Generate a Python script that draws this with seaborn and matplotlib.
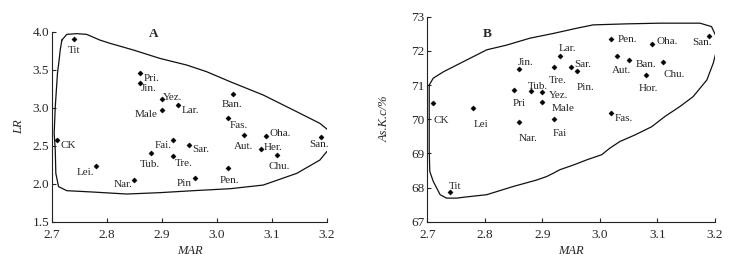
import seaborn as sns
import matplotlib.pyplot as plt
import pandas as pd

# ---- data ----
# panel A: MAR vs LR
names_a = ["Tit", "Pri.", "Jin.", "Yez.", "Male", "Lar.", "Ban.", "Fas.", "Aut.", "Oha.", "Her.",
           "Chu.", "San.", "CK", "Fai.", "Sar.", "Tub.", "Tre.", "Lei.", "Nar.", "Pin", "Pen."]
mar_a = [2.74, 2.86, 2.86, 2.90, 2.90, 2.93, 3.03, 3.02, 3.05, 3.09, 3.08,
         3.11, 3.19, 2.71, 2.92, 2.95, 2.88, 2.92, 2.78, 2.85, 2.96, 3.02]
lr_a = [3.91, 3.45, 3.33, 3.12, 2.97, 3.03, 3.18, 2.86, 2.64, 2.63, 2.46,
        2.38, 2.62, 2.57, 2.57, 2.51, 2.40, 2.36, 2.23, 2.05, 2.07, 2.20]

# panel B: MAR vs As.K.c/%
names_b = ["CK", "Lei", "Jin.", "Pri", "Tub.", "Yez.", "Male", "Tre.", "Lar.", "Nar.", "Fai",
           "Tit", "Sar.", "Pin.", "Pen.", "Oha.", "San.", "Aut.", "Ban.", "Chu.", "Hor.", "Fas."]
mar_b = [2.71, 2.78, 2.86, 2.85, 2.88, 2.90, 2.90, 2.92, 2.93, 2.86, 2.92,
         2.74, 2.95, 2.96, 3.02, 3.09, 3.19, 3.03, 3.05, 3.11, 3.08, 3.02]
ask_b = [70.47, 70.34, 71.47, 70.86, 70.83, 70.80, 70.51, 71.52, 71.85, 69.91, 70.01,
         67.88, 71.52, 71.41, 72.34, 72.19, 72.44, 71.86, 71.73, 71.68, 71.30, 70.18]

# hand-drawn enclosing outlines (data units)
hull_a_x = [2.718, 2.727, 2.745, 2.763, 2.787, 2.806, 2.848, 2.896, 2.945, 2.981, 3.024,
            3.084, 3.145, 3.187, 3.202, 3.209, 3.207, 3.187, 3.145, 3.084, 3.024, 2.957,
            2.896, 2.836, 2.775, 2.727, 2.712, 2.707, 2.706, 2.704, 2.706, 2.710, 2.713,
            2.715, 2.718]
hull_a_y = [3.890, 3.965, 3.974, 3.965, 3.890, 3.846, 3.759, 3.649, 3.561, 3.474, 3.342,
            3.167, 2.947, 2.794, 2.706, 2.596, 2.487, 2.311, 2.136, 1.982, 1.934, 1.908,
            1.882, 1.864, 1.890, 1.908, 1.961, 2.136, 2.443, 2.662, 3.013, 3.452, 3.627,
            3.759, 3.890]
hull_b_x = [2.703, 2.710, 2.728, 2.762, 2.803, 2.838, 2.878, 2.919, 2.959, 2.988, 3.046,
            3.104, 3.174, 3.194, 3.202, 3.203, 3.197, 3.186, 3.162, 3.139, 3.113, 3.090,
            3.061, 3.035, 3.017, 3.003, 2.977, 2.954, 2.930, 2.919, 2.907, 2.890, 2.849,
            2.803, 2.765, 2.751, 2.733, 2.722, 2.710, 2.704, 2.703, 2.703, 2.703]
hull_b_y = [71.00, 71.20, 71.39, 71.68, 72.03, 72.17, 72.37, 72.51, 72.66, 72.76, 72.79,
            72.81, 72.81, 72.71, 72.42, 72.03, 71.64, 71.15, 70.66, 70.37, 70.08, 69.78,
            69.54, 69.35, 69.15, 68.96, 68.81, 68.66, 68.52, 68.42, 68.32, 68.22, 68.03,
            67.79, 67.72, 67.69, 67.69, 67.79, 68.18, 68.47, 69.10, 70.27, 71.00]

# label offsets (pixels) relative to each point
off_a = {"Tit": (0, -12), "Pri.": (12, -5), "Jin.": (9, -6), "Yez.": (11, 1), "Male": (-16, -5),
         "Lar.": (12, -5), "Ban.": (-1, -10), "Fas.": (11, -7), "Aut.": (-1, -11), "Oha.": (14, 2),
         "Her.": (12, 1), "Chu.": (2, -12), "San.": (-2, -8), "CK": (11, -5), "Fai.": (-10, -5),
         "Sar.": (11, -5), "Tub.": (-1, -11), "Tre.": (11, -7), "Lei.": (-11, -6), "Nar.": (-11, -5),
         "Pin": (-11, -5), "Pen.": (1, -12)}
off_b = {"CK": (8, -17), "Lei": (8, -17), "Jin.": (6, 6), "Pri": (6, -14), "Tub.": (7, 4),
         "Yez.": (16, -4), "Male": (21, -7), "Tre.": (4, -13), "Lar.": (8, 7), "Nar.": (9, -16),
         "Fai": (6, -15), "Tit": (5, 5), "Sar.": (12, 3), "Pin.": (9, -16), "Pen.": (16, 0),
         "Oha.": (15, 3), "San.": (-7, -7), "Aut.": (4, -15), "Ban.": (17, -4), "Chu.": (11, -13),
         "Hor.": (2, -14), "Fas.": (12, -5)}

df_a = pd.DataFrame({"name": names_a, "MAR": mar_a, "LR": lr_a})
df_b = pd.DataFrame({"name": names_b, "MAR": mar_b, "ASK": ask_b})

sns.set_style("ticks")
plt.rcParams["font.family"] = ["Liberation Serif", "DejaVu Serif"]

fig = plt.figure(figsize=(7.33, 2.67), dpi=100)
ax_a = fig.add_axes([0.0709, 0.1697, 0.3752, 0.7116])
ax_b = fig.add_axes([0.5832, 0.1697, 0.3922, 0.7678])


def draw_panel(ax, df, ycol, hx, hy, offsets):
    ax.plot(hx, hy, color="#111111", lw=0.9)
    sns.scatterplot(data=df, x="MAR", y=ycol, ax=ax, marker="D", s=7,
                    color="black", edgecolor="black", linewidth=0.3, legend=False)
    for n, x, y in zip(df["name"], df["MAR"], df[ycol]):
        dx, dy = offsets[n]
        ax.annotate(n, (x, y), xytext=(dx, dy), textcoords="offset pixels",
                    ha="center", va="center", fontsize=8)
    for s in ["top", "right"]:
        ax.spines[s].set_visible(False)
    for s in ["left", "bottom"]:
        ax.spines[s].set_linewidth(0.8)
        ax.spines[s].set_color("#222222")
    ax.tick_params(direction="in", length=3, width=0.8, labelsize=9.5, pad=2)
    ax.tick_params(axis="x", pad=5)
    ax.set_xlim(2.7, 3.2)
    ax.set_xticks([2.7, 2.8, 2.9, 3.0, 3.1, 3.2])
    ax.set_xticklabels(["2.7", "2.8", "2.9", "3.0", "3.1", "3.2"])
    ax.set_xlabel("MAR", fontsize=9, fontstyle="italic", labelpad=3)


draw_panel(ax_a, df_a, "LR", hull_a_x, hull_a_y, off_a)
ax_a.set_ylim(1.5, 4.0)
ax_a.set_yticks([1.5, 2.0, 2.5, 3.0, 3.5, 4.0])
ax_a.set_yticklabels(["1.5", "2.0", "2.5", "3.0", "3.5", "4.0"])
ax_a.set_ylabel("LR", fontsize=9, fontstyle="italic", labelpad=5)
ax_a.text(2.885, 3.97, "A", fontsize=9.5, fontweight="bold", ha="center", va="center")

draw_panel(ax_b, df_b, "ASK", hull_b_x, hull_b_y, off_b)
ax_b.set_ylim(67, 73)
ax_b.set_yticks([67, 68, 69, 70, 71, 72, 73])
ax_b.set_ylabel("As.K.c/%", fontsize=9, fontstyle="italic", labelpad=15)
ax_b.text(2.803, 72.5, "B", fontsize=9.5, fontweight="bold", ha="center", va="center")

fig.savefig("out.png", dpi=100)
